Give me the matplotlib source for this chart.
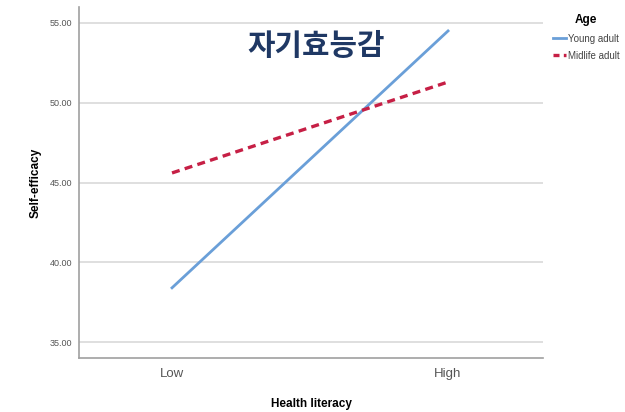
import matplotlib
matplotlib.use("Agg")
from matplotlib import pyplot as plt

plt.rcParams['font.family'] = ['Liberation Sans', 'DejaVu Sans', 'Noto Sans CJK KR']

# data
levels = ['Low', 'High']
young = [38.4, 54.5]
midlife = [45.6, 51.3]
yticks = [35, 40, 45, 50, 55]

fig = plt.figure(figsize=(6.25, 4.12), dpi=100)
ax = fig.add_axes([0.1264, 0.131, 0.7424, 0.852])

x = range(len(levels))
ax.plot(x, young, color='#6a9fd8', linewidth=2, label='Young adult')
ax.plot(x, midlife, color='#c61f45', linewidth=2.4, linestyle=(0, (2.4, 1.6)), label='Midlife adult')

ax.set_xlim(-0.337, 1.344)
ax.set_ylim(34, 56)
ax.set_yticks(yticks)
ax.set_yticklabels(['%.2f' % v for v in yticks], fontsize=6.5, color='#555555')
ax.set_xticks(list(x))
ax.set_xticklabels(levels, fontsize=9.5, color='#555555')
ax.tick_params(axis='y', length=0, pad=5)
ax.tick_params(axis='x', length=0, pad=7)
ax.yaxis.grid(True, color='#d9d9d9', linewidth=1.2)
ax.set_axisbelow(True)
for s in ['top', 'right']:
    ax.spines[s].set_visible(False)
for s in ['left', 'bottom']:
    ax.spines[s].set_color('#a0a0a0')
    ax.spines[s].set_linewidth(1.2)

ax.set_ylabel('Self-efficacy', fontsize=8.5, fontweight='bold', labelpad=6)
ax.set_xlabel('Health literacy', fontsize=8.5, fontweight='bold', labelpad=13)

fig.text(0.506, 0.888, '자기효능감', fontsize=21.5, fontweight='bold', color='#1f3864',
         family=['Noto Sans CJK KR', 'DejaVu Sans'], ha='center', va='center')

leg = ax.legend(loc='upper left', bbox_to_anchor=(1.017, 0.985), frameon=False,
                title='Age', fontsize=7, handlelength=1.4, handletextpad=0.15,
                borderaxespad=0, borderpad=0.2, labelspacing=0.75)
leg.get_title().set_fontweight('bold')
leg.get_title().set_fontsize(8.5)
for t in leg.get_texts():
    t.set_color('#444444')
leg.get_lines()[1].set_linestyle((0, (1.8, 1.3)))

fig.savefig('out.png', dpi=100)
